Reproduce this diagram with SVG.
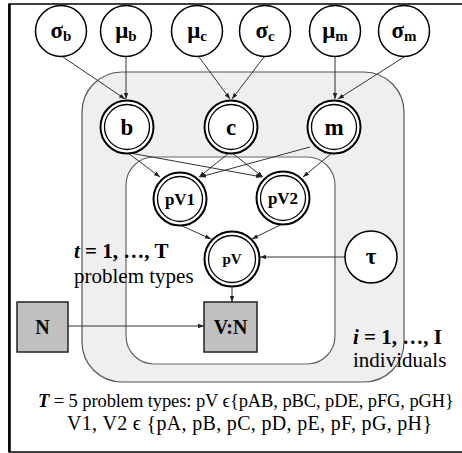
<svg xmlns="http://www.w3.org/2000/svg" width="462" height="453" viewBox="0 0 462 453">
  <defs>
    <marker id="arr" viewBox="0 0 8 6" refX="8" refY="3" markerWidth="6" markerHeight="4.5" orient="auto" markerUnits="userSpaceOnUse">
      <path d="M0,0 L8,3 L0,6 z" fill="#222"/>
    </marker>
    <style>
      .frame { fill: #fff; stroke: #000; stroke-width: 1.5; }
      .plate-out { fill: #efefef; stroke: #555; stroke-width: 1.2; }
      .plate-in { fill: #fff; stroke: #666; stroke-width: 1.2; }
      .hyper { fill: #fff; stroke: #000; stroke-width: 1.5; }
      .dbl-o { fill: #fff; stroke: #000; stroke-width: 2; }
      .dbl-i { fill: none; stroke: #000; stroke-width: 1.3; }
      .obs { fill: #c0c0c0; stroke: #222; stroke-width: 1.5; }
      .edge { stroke: #333; stroke-width: 1; fill: none; marker-end: url(#arr); }
      .lbl { font-family: "Liberation Serif", "Times New Roman", serif; font-weight: bold; text-anchor: middle; fill: #000; }
      .txt { font-family: "Liberation Serif", "Times New Roman", serif; fill: #000; }
    </style>
  </defs>

  <!-- outer frame -->
  <rect class="frame" x="9" y="4" width="460" height="448"/>
  <line x1="9.5" y1="4" x2="9.5" y2="452" stroke="#000" stroke-width="2.5"/>

  <!-- plates -->
  <g id="plate-individuals">
    <rect class="plate-out" x="82" y="72" width="322" height="310" rx="40" ry="40"/>
  </g>
  <g id="plate-types">
    <rect class="plate-in" x="126" y="157" width="209" height="207" rx="28" ry="28"/>
  </g>

  <!-- connectors -->
  <g id="edges">
    <line class="edge" x1="63" y1="57" x2="125" y2="99"/>
    <line class="edge" x1="126" y1="57" x2="126" y2="99"/>
    <line class="edge" x1="199" y1="57" x2="230" y2="99"/>
    <line class="edge" x1="264" y1="57" x2="232" y2="99"/>
    <line class="edge" x1="335" y1="57" x2="335" y2="99"/>
    <line class="edge" x1="404" y1="57" x2="338" y2="99"/>
    <line class="edge" x1="128" y1="153" x2="160" y2="177"/>
    <line class="edge" x1="130" y1="153" x2="262" y2="177"/>
    <line class="edge" x1="229" y1="153" x2="199" y2="177"/>
    <line class="edge" x1="232" y1="153" x2="263" y2="177"/>
    <line class="edge" x1="310" y1="147" x2="200" y2="177"/>
    <line class="edge" x1="332" y1="153" x2="303" y2="177"/>
    <line class="edge" x1="180" y1="225" x2="211" y2="239"/>
    <line class="edge" x1="282" y1="224" x2="252" y2="239"/>
    <line class="edge" x1="345" y1="257" x2="260" y2="257"/>
    <line class="edge" x1="232" y1="287" x2="232" y2="302"/>
    <line class="edge" x1="68" y1="326" x2="204" y2="326"/>
  </g>

  <!-- hyperparameters -->
  <g id="sigma-b">
    <circle class="hyper" cx="61" cy="31" r="25.5"/>
    <text class="lbl" x="61" y="38" font-size="23">σ<tspan font-size="15" dy="3">b</tspan></text>
  </g>
  <g id="mu-b">
    <circle class="hyper" cx="126" cy="31" r="25.5"/>
    <text class="lbl" x="126" y="38" font-size="23">μ<tspan font-size="15" dy="3">b</tspan></text>
  </g>
  <g id="mu-c">
    <circle class="hyper" cx="197" cy="31" r="25.5"/>
    <text class="lbl" x="197" y="38" font-size="23">μ<tspan font-size="15" dy="3">c</tspan></text>
  </g>
  <g id="sigma-c">
    <circle class="hyper" cx="265" cy="31" r="25.5"/>
    <text class="lbl" x="265" y="38" font-size="23">σ<tspan font-size="15" dy="3">c</tspan></text>
  </g>
  <g id="mu-m">
    <circle class="hyper" cx="335" cy="31" r="25.5"/>
    <text class="lbl" x="335" y="38" font-size="23">μ<tspan font-size="15" dy="3">m</tspan></text>
  </g>
  <g id="sigma-m">
    <circle class="hyper" cx="404" cy="31" r="25.5"/>
    <text class="lbl" x="404" y="38" font-size="23">σ<tspan font-size="15" dy="3">m</tspan></text>
  </g>

  <!-- individual-level parameters -->
  <g id="b">
    <circle class="dbl-o" cx="127" cy="127" r="26.5"/>
    <circle class="dbl-i" cx="127" cy="127" r="22.5"/>
    <text class="lbl" x="127" y="135" font-size="23">b</text>
  </g>
  <g id="c">
    <circle class="dbl-o" cx="231" cy="127" r="26.5"/>
    <circle class="dbl-i" cx="231" cy="127" r="22.5"/>
    <text class="lbl" x="231" y="135" font-size="23">c</text>
  </g>
  <g id="m">
    <circle class="dbl-o" cx="334" cy="127" r="26.5"/>
    <circle class="dbl-i" cx="334" cy="127" r="22.5"/>
    <text class="lbl" x="334" y="135" font-size="23">m</text>
  </g>

  <!-- problem-type level -->
  <g id="pV1">
    <circle class="dbl-o" cx="180" cy="199" r="26.5"/>
    <circle class="dbl-i" cx="180" cy="199" r="22.5"/>
    <text class="lbl" x="180" y="205" font-size="17">pV1</text>
  </g>
  <g id="pV2">
    <circle class="dbl-o" cx="283" cy="198" r="26.5"/>
    <circle class="dbl-i" cx="283" cy="198" r="22.5"/>
    <text class="lbl" x="283" y="204" font-size="17">pV2</text>
  </g>
  <g id="pV">
    <circle class="dbl-o" cx="232" cy="259" r="27.5"/>
    <circle class="dbl-i" cx="232" cy="259" r="23.5"/>
    <text class="lbl" x="232" y="264" font-size="15">pV</text>
  </g>
  <g id="tau">
    <circle class="hyper" cx="371" cy="257" r="26"/>
    <text class="lbl" x="371" y="264" font-size="23">τ</text>
  </g>

  <!-- observed counts -->
  <g id="N">
    <rect class="obs" x="17" y="302" width="51" height="50"/>
    <text class="lbl" x="42.5" y="334" font-size="20">N</text>
  </g>
  <g id="VN">
    <rect class="obs" x="204" y="302" width="53" height="50"/>
    <text class="lbl" x="230.5" y="334" font-size="20">V:N</text>
  </g>

  <!-- plate labels -->
  <g id="labels">
    <text class="txt" x="74" y="258" font-size="21" font-weight="bold"><tspan font-style="italic">t</tspan> = 1, …, T</text>
    <text class="txt" x="74" y="283" font-size="21">problem types</text>
    <text class="txt" x="353" y="344" font-size="21" font-weight="bold"><tspan font-style="italic">i</tspan> = 1, …, I</text>
    <text class="txt" x="353" y="367" font-size="21">individuals</text>
    <text class="txt" x="38" y="407" font-size="18.5" textLength="416" lengthAdjust="spacing"><tspan font-style="italic" font-weight="bold">T</tspan> = 5 problem types: pV ϵ{pAB, pBC, pDE, pFG, pGH}</text>
    <text class="txt" x="67" y="430" font-size="20" textLength="365" lengthAdjust="spacing">V1, V2 ϵ {pA, pB, pC, pD, pE, pF, pG, pH}</text>
  </g>
</svg>
